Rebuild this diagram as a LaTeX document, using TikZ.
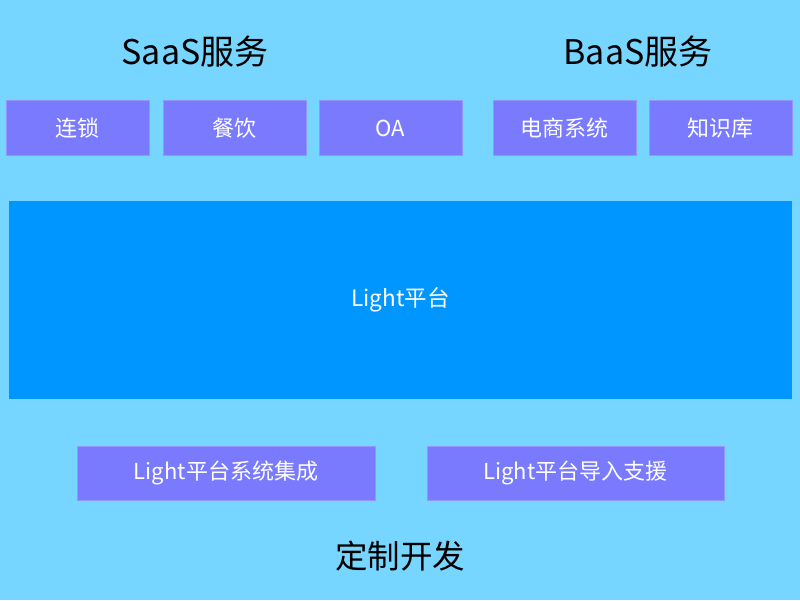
\documentclass[tikz,border=0pt]{standalone}
\usepackage{fontspec}
\setmainfont{Noto Sans CJK SC}
\definecolor{bgblue}{HTML}{76D6FF}
\definecolor{boxpurple}{HTML}{7A7AFF}
\definecolor{coreblue}{HTML}{0096FF}
\begin{document}
\begin{tikzpicture}[x=1pt,y=-1pt,
  svc/.style={fill=boxpurple,draw=boxpurple!80!white,minimum width=143pt,minimum height=55pt,inner sep=0pt,text=white,font=\fontsize{22}{26}\selectfont},
  head/.style={font=\fontsize{34}{40}\selectfont}]
\fill[bgblue] (0,0) rectangle (800,600);
\useasboundingbox (0,0) rectangle (800,600);
\node[head] (saas) at (195,52) {SaaS服务};
\node[head] (baas) at (638,52) {BaaS服务};
\foreach \n/\x/\t in {s1/77.5/连锁,s2/234.5/餐饮,s3/390.5/OA,b1/564.5/电商系统,b2/720.5/知识库}{\node[svc] (\n) at (\x,128) {\t};}
\node[fill=coreblue,minimum width=783pt,minimum height=198pt,inner sep=0pt,text=white,font=\fontsize{22.5}{26}\selectfont] (light) at (400.5,300) {Light平台};
\node[svc,minimum width=298pt,minimum height=54pt] (integ) at (226,473) {Light平台系统集成};
\node[svc,minimum width=297pt,minimum height=54pt] (intro) at (575.5,473) {Light平台导入支援};
\node[font=\fontsize{32.5}{38}\selectfont] (custom) at (400,556) {定制开发};
\end{tikzpicture}
\end{document}
